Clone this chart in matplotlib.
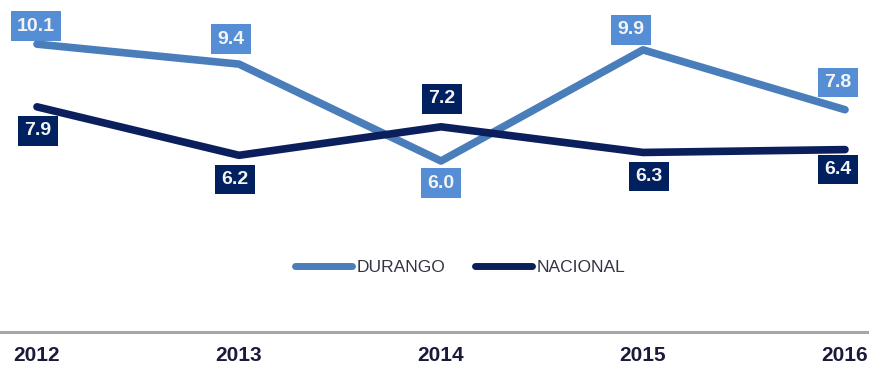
import matplotlib
matplotlib.use("Agg")
import matplotlib.pyplot as plt

years = [2012, 2013, 2014, 2015, 2016]
durango = [10.1, 9.4, 6.0, 9.9, 7.8]
nacional = [7.9, 6.2, 7.2, 6.3, 6.4]
series_names = ["DURANGO", "NACIONAL"]

line_colors = ["#4A7EBB", "#0B1F5C"]
box_colors = ["#558ED5", "#002060"]

# label offsets in pixels (dx, dy) relative to each point
durango_offsets = [(-1, 18), (-8, 25), (0, -22), (-12, 20), (-7, 27)]
nacional_offsets = [(1, -24), (-4, -24), (1, 28), (6, -24), (-7, -20)]

fig = plt.figure(figsize=(8.7, 3.68), dpi=100)
ax = fig.add_axes([0, 36 / 368, 1, 327.75 / 368])

for vals, name, lc, bc, offs in [
    (durango, series_names[0], line_colors[0], box_colors[0], durango_offsets),
    (nacional, series_names[1], line_colors[1], box_colors[1], nacional_offsets),
]:
    ax.plot(years, vals, color=lc, lw=5.5, solid_capstyle="round",
            solid_joinstyle="round", label=name, zorder=2)
    for x, v, (dx, dy) in zip(years, vals, offs):
        ax.annotate(f"{v:.1f}", (x, v), xytext=(dx, dy),
                    textcoords="offset pixels", ha="center", va="center",
                    fontsize=14, fontweight="bold", color="#F4F4F4",
                    family="Liberation Sans", zorder=4,
                    bbox=dict(boxstyle="square,pad=0.32", fc=bc, ec="none"))

ax.set_xlim(2012 - 37 / 202, 2016 + 25 / 202)
ax.set_ylim(0, 11.5)
ax.set_yticks([])
ax.set_xticks(years)
ax.set_xticklabels([str(y) for y in years], fontsize=15, fontweight="bold",
                   color="#1A1A3A", family="Liberation Sans")
ax.tick_params(axis="x", length=0, pad=10)
for s in ["top", "left", "right"]:
    ax.spines[s].set_visible(False)
ax.spines["bottom"].set_color("#A6A6A6")
ax.spines["bottom"].set_linewidth(2.2)

leg = ax.legend(loc="center", bbox_to_anchor=(460 / 870, (332 - 267) / 327.75),
                ncol=2, frameon=False, handlelength=3.3, handletextpad=0.25,
                columnspacing=1.7, prop={"family": "Liberation Sans", "size": 12.5})
for t in leg.get_texts():
    t.set_color("#333344")
for h in leg.get_lines():
    h.set_linewidth(5)

fig.savefig("out.png", dpi=100)
